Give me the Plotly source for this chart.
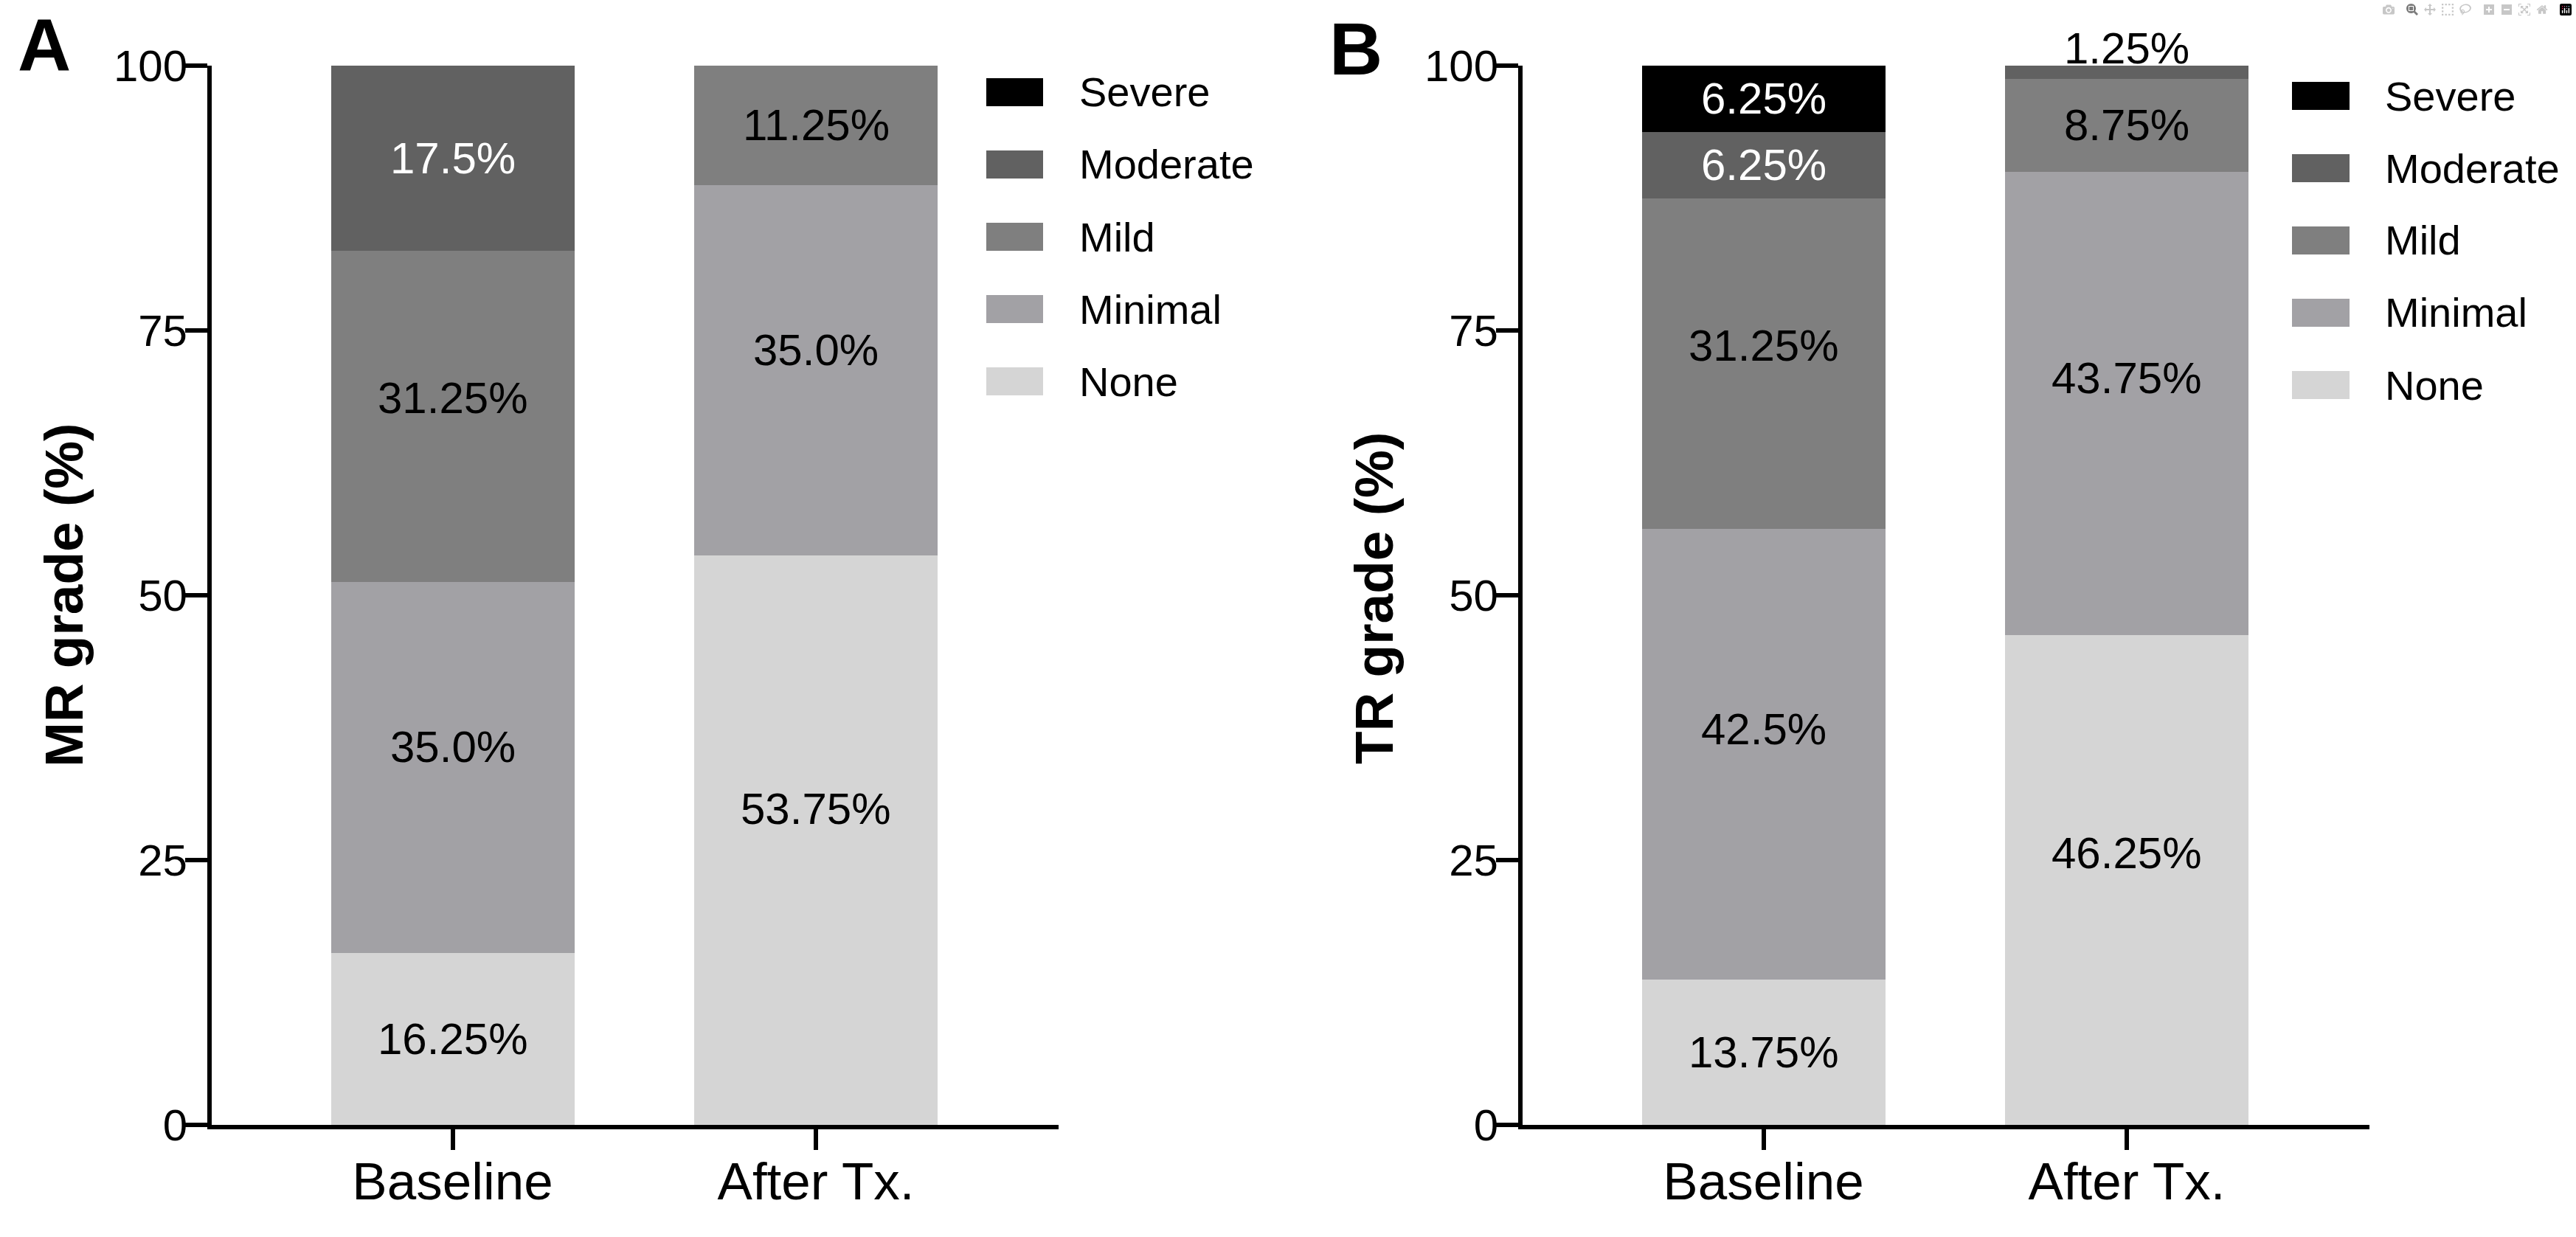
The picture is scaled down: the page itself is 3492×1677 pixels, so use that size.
import plotly.graph_objects as go

# ---------------- data ----------------
categories = ["Baseline", "After Tx."]
grades = ["None", "Minimal", "Mild", "Moderate", "Severe"]  # bottom -> top

mr_none = [16.25, 53.75]
mr_minimal = [35.0, 35.0]
mr_mild = [31.25, 11.25]
mr_moderate = [17.5, None]
mr_severe = [None, None]

tr_none = [13.75, 46.25]
tr_minimal = [42.5, 43.75]
tr_mild = [31.25, 8.75]
tr_moderate = [6.25, 1.25]
tr_severe = [6.25, None]

mr_title = "MR grade (%)"
tr_title = "TR grade (%)"
y_ticks = [0, 25, 50, 75, 100]

# ---------------- style ----------------
W, H = 3492, 1677
FONT = "Arial, 'Liberation Sans', sans-serif"
colors = {"None": "#d5d5d5", "Minimal": "#a2a1a5", "Mild": "#7f7f7f",
          "Moderate": "#616161", "Severe": "#000000"}
text_colors = {"None": "black", "Minimal": "black", "Mild": "black",
               "Moderate": "white", "Severe": "white"}


def px(x):
    return x / W


def py(y):
    return 1 - y / H


fig = go.Figure()
annotations = []
shapes = []

panels = [
    ("x", "y", {"None": mr_none, "Minimal": mr_minimal, "Mild": mr_mild,
                "Moderate": mr_moderate, "Severe": mr_severe}),
    ("x2", "y2", {"None": tr_none, "Minimal": tr_minimal, "Mild": tr_mild,
                  "Moderate": tr_moderate, "Severe": tr_severe}),
]

for xa, ya, series in panels:
    base = [0.0 for _ in categories]
    for g in grades:
        vals = series[g]
        fig.add_trace(go.Bar(
            x=categories, y=vals, name=g, xaxis=xa, yaxis=ya,
            marker=dict(color=colors[g], line=dict(width=0)),
            showlegend=False, hoverinfo="skip",
        ))
        # segment value labels
        for i, v in enumerate(vals):
            if not v:
                continue
            label = f"{v}%"
            if v < 3:
                # too thin: label sits just above the stack
                annotations.append(dict(text=label, x=categories[i], y=base[i] + v,
                                        xref=xa, yref=ya, xanchor="center", yanchor="bottom",
                                        yshift=-12, showarrow=False,
                                        font=dict(family=FONT, size=60, color="black")))
            else:
                frac = 0.555 if v >= 20 else 0.5
                annotations.append(dict(text=label, x=categories[i], y=base[i] + v * frac,
                                        xref=xa, yref=ya, xanchor="center", yanchor="middle",
                                        showarrow=False,
                                        font=dict(family=FONT, size=60, color=text_colors[g])))
            base[i] += v

axis_common = dict(showline=True, linecolor="black", linewidth=6,
                   ticks="outside", tickwidth=6, tickcolor="black",
                   showgrid=False, zeroline=False, automargin=False)

y_dom = [py(1525), py(89)]
x_rng = [-0.663, 1.667]

xaxis_style = dict(range=x_rng, type="category", categoryorder="array",
                   categoryarray=categories, ticklen=28, ticklabelstandoff=-18,
                   tickfont=dict(family=FONT, size=71, color="black"), **axis_common)
yaxis_style = dict(domain=y_dom, range=[0, 100], tickvals=y_ticks, ticklen=30,
                   ticklabelstandoff=-15,
                   tickfont=dict(family=FONT, size=60, color="black"), **axis_common)

fig.update_layout(
    width=W, height=H,
    margin=dict(l=0, r=0, t=0, b=0, pad=0),
    paper_bgcolor="white", plot_bgcolor="white",
    barmode="stack", bargap=0.33,
    showlegend=False,
    font=dict(family=FONT, color="black"),
    xaxis=dict(domain=[px(287), px(1434.5)], anchor="y", **xaxis_style),
    yaxis=dict(anchor="x", **yaxis_style),
    xaxis2=dict(domain=[px(2064), px(3211.5)], anchor="y2", **xaxis_style),
    yaxis2=dict(anchor="x2", **yaxis_style),
)

# panel letters
for letter, lx, ly in [("A", 22, 61), ("B", 1800, 66)]:
    annotations.append(dict(text=letter, x=px(lx), y=py(ly), xref="paper", yref="paper",
                            xanchor="left", yanchor="middle", showarrow=False,
                            font=dict(family=FONT, size=100, color="black", weight="bold")))

# axis titles
for title, tx, ty in [(mr_title, 87, 807), (tr_title, 1862, 811)]:
    annotations.append(dict(text=title, x=px(tx), y=py(ty), xref="paper", yref="paper",
                            xanchor="center", yanchor="middle", textangle=-90, showarrow=False,
                            font=dict(family=FONT, size=73, color="black", weight="bold")))

# legends (top -> bottom: Severe ... None)
legend_order = grades[::-1]
for rx0, rx1, tx, top_c in [(1337, 1414, 1461, 125), (3107, 3185, 3231, 130)]:
    for i, g in enumerate(legend_order):
        c = top_c + 98 * i
        shapes.append(dict(type="rect", xref="paper", yref="paper",
                           x0=px(rx0), x1=px(rx1), y0=py(c + 19), y1=py(c - 19),
                           fillcolor=colors[g], line=dict(width=0)))
        annotations.append(dict(text=g, x=px(tx), y=py(c), xref="paper", yref="paper",
                                xanchor="left", yanchor="middle", showarrow=False,
                                font=dict(family=FONT, size=56, color="black")))

fig.update_layout(annotations=annotations, shapes=shapes)

fig.write_html("out.html", post_script="document.body.style.margin='0';")
